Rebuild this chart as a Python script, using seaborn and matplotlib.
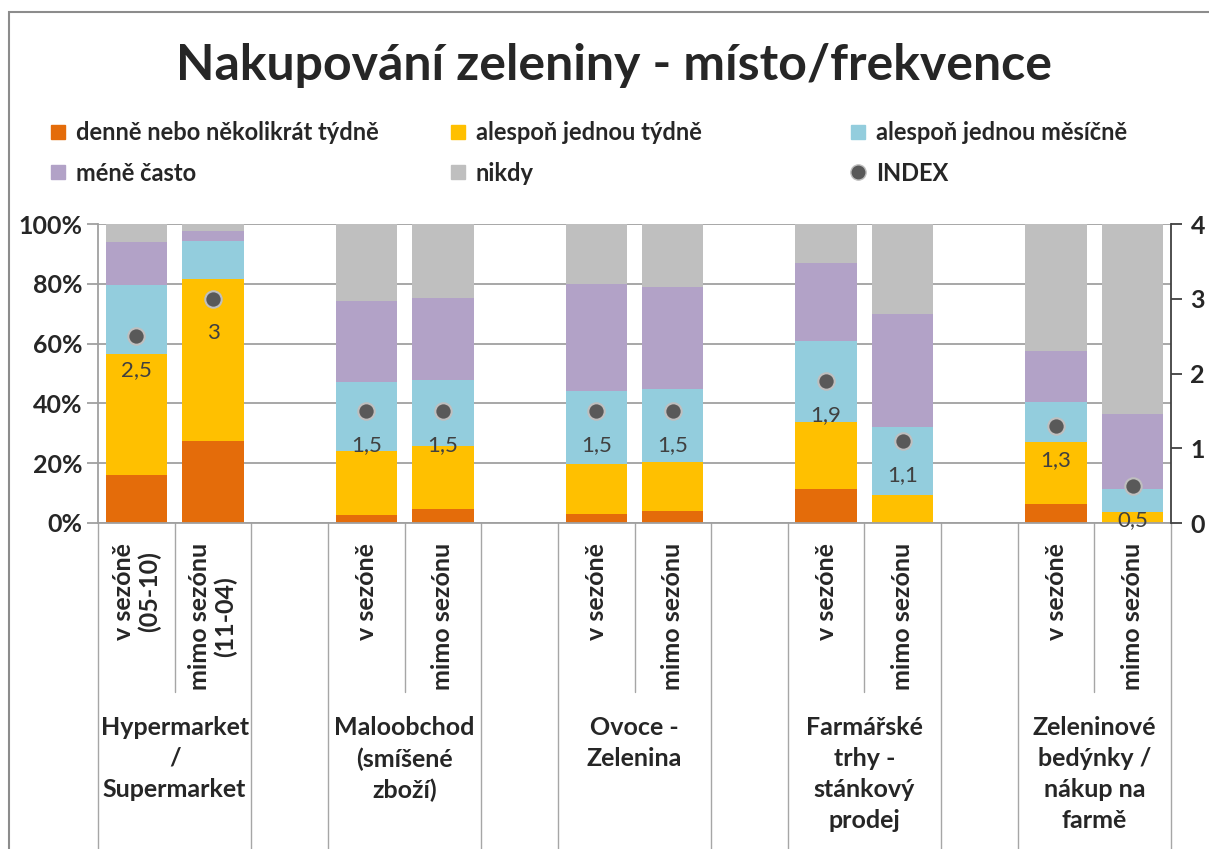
import seaborn as sns
import pandas as pd
import numpy as np
import matplotlib.pyplot as plt
from matplotlib.lines import Line2D
from matplotlib.patches import Rectangle
from matplotlib.ticker import PercentFormatter

# Data (percent of respondents, per bar)
positions = [0, 1, 3, 4, 6, 7, 9, 10, 12, 13]
sub_labels = ['v sezóně\n(05-10)', 'mimo sezónu\n(11-04)',
              'v sezóně', 'mimo sezónu', 'v sezóně', 'mimo sezónu',
              'v sezóně', 'mimo sezónu', 'v sezóně', 'mimo sezónu']
group_labels = ['Hypermarket\n/\nSupermarket', 'Maloobchod\n(smíšené\nzboží)',
                'Ovoce -\nZelenina', 'Farmářské\ntrhy -\nstánkový\nprodej',
                'Zeleninové\nbedýnky /\nnákup na\nfarmě']
denne = [16, 27.5, 2.6, 4.7, 2.9, 4.0, 11.3, 0, 6.2, 0]
tydne = [40.5, 54, 21.4, 21.2, 16.9, 16.4, 22.6, 9.5, 20.8, 3.7]
mesicne = [23, 12.7, 23.1, 21.9, 24.3, 24.4, 26.9, 22.5, 13.5, 7.6]
mene = [14.5, 3.4, 27.2, 27.3, 35.8, 34.0, 26.0, 38.0, 17.0, 25.1]
nikdy = [6, 2.4, 25.7, 24.9, 20.1, 21.2, 13.2, 30.0, 42.5, 63.6]
index_vals = [2.5, 3.0, 1.5, 1.5, 1.5, 1.5, 1.9, 1.1, 1.3, 0.5]

series_names = ['denně nebo několikrát týdně', 'alespoň jednou týdně',
                'alespoň jednou měsíčně', 'méně často', 'nikdy']
colors = ['#E46C0A', '#FFC000', '#93CDDD', '#B2A2C7', '#BFBFBF']
dot_color = '#595959'

sns.set_theme(style='white')
plt.rcParams['font.family'] = ['Lato', 'DejaVu Sans']

df = pd.DataFrame({'pos': positions, 'denne': denne, 'tydne': tydne,
                   'mesicne': mesicne, 'mene': mene, 'nikdy': nikdy,
                   'index': index_vals})
layers = ['denne', 'tydne', 'mesicne', 'mene', 'nikdy']
cum = df[layers].cumsum(axis=1)

fig = plt.figure(figsize=(12.09, 8.49), dpi=100)
ax = fig.add_axes([98 / 1209, 1 - 523 / 849, (1171 - 98) / 1209, 299 / 849])

# stacked bars: draw cumulative heights from the top layer down
for col, color in zip(layers[::-1], colors[::-1]):
    sns.barplot(x=df['pos'], y=cum[col], ax=ax, native_scale=True, color=color,
                saturation=1, width=0.8, linewidth=0, errorbar=None)

ax.set_xlim(-0.5, 13.5)
ax.set_ylim(0, 100)
ax.set_xticks([])
ax.set_xlabel('')
ax.set_ylabel('')
ax.set_yticks(np.arange(0, 101, 20))
ax.yaxis.set_major_formatter(PercentFormatter(decimals=0))
ax.yaxis.grid(True, color='#A0A0A0', lw=1.3)
ax.set_axisbelow(True)
ax.tick_params(axis='y', left=True, length=8, width=1.3, color='#A0A0A0',
               labelsize=18, pad=3)
for lab in ax.get_yticklabels():
    lab.set_fontweight('bold')
for s in ['top', 'right']:
    ax.spines[s].set_visible(False)
for s in ['left', 'bottom']:
    ax.spines[s].set_color('#A0A0A0')
    ax.spines[s].set_linewidth(1.3)

# index on secondary axis
ax2 = ax.twinx()
sns.scatterplot(x=df['pos'], y=df['index'], ax=ax2, s=140, color=dot_color,
                edgecolor='#BFBFBF', linewidth=1.5, zorder=5)
ax2.set_ylim(0, 4)
ax2.set_xlim(-0.5, 13.5)
ax2.set_yticks(range(5))
ax2.set_ylabel('')
ax2.tick_params(axis='y', right=True, length=8, width=1.3, color='#404040',
                labelsize=18, pad=6)
for lab in ax2.get_yticklabels():
    lab.set_fontweight('bold')
for s in ['top', 'left', 'bottom']:
    ax2.spines[s].set_visible(False)
ax2.spines['right'].set_color('#404040')
ax2.spines['right'].set_linewidth(1.3)
for x, v in zip(positions, index_vals):
    ax2.annotate(f'{v:g}'.replace('.', ','), (x, v), xytext=(0, -24.5),
                 textcoords='offset points', ha='center', va='center',
                 fontsize=16, color='#404040')

# category axis drawn by hand: separators, sub labels, group labels
trans = ax.get_xaxis_transform()
for k in range(15):
    b = -0.5 + k
    depth = -0.565 if k % 3 == 1 else -1.1
    ax.plot([b, b], [0, depth], transform=trans, clip_on=False,
            color='#A6A6A6', lw=1)
for x, lab in zip(positions, sub_labels):
    ax.text(x, -0.067, lab, transform=trans, rotation=90, ha='center',
            va='top', multialignment='center', fontsize=18, fontweight='bold',
            linespacing=1.15)
for i, lab in enumerate(group_labels):
    ax.text(3 * i + 0.5, -0.645, lab, transform=trans, ha='center', va='top',
            fontsize=18, fontweight='bold', linespacing=1.42)

fig.text(614 / 1209, 1 - 65 / 849, 'Nakupování zeleniny - místo/frekvence',
         ha='center', va='center', fontsize=36, fontweight='bold')

# legend: three columns of two rows
handles = [Line2D([], [], marker='s', ls='', markersize=10, color=c) for c in colors]
handles.append(Line2D([], [], marker='o', ls='', markersize=11, color=dot_color,
                      markeredgecolor='#BFBFBF'))
names = series_names + ['INDEX']
columns = [(0, 3), (1, 4), (2, 5)]
for (a, b), xpix in zip(columns, [37, 437, 837]):
    fig.legend([handles[a], handles[b]], [names[a], names[b]], loc='upper left',
               bbox_to_anchor=(xpix / 1209, 1 - 109 / 849), frameon=False,
               borderpad=0, handlelength=0.8, handletextpad=0.35, labelspacing=0.75,
               prop={'size': 17, 'weight': 'bold'})

# chart area border
fig.add_artist(Rectangle((9 / 1209, -0.1), 1.2, 0.1 + 1 - 12 / 849,
                         transform=fig.transFigure, fill=False,
                         edgecolor='#8C8C8C', lw=1.5))

fig.savefig('out.png', dpi=100)
